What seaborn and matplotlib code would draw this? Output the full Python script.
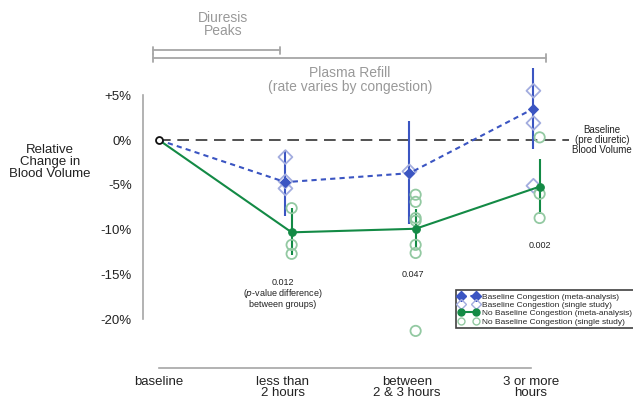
import numpy as np
import pandas as pd
import seaborn as sns
import matplotlib.pyplot as plt
from matplotlib.lines import Line2D

sns.set_theme(style="white")
plt.rcParams['font.family'] = ['Liberation Sans', 'DejaVu Sans']

# Time points after diuretic
categories = ["baseline", "less than\n2 hours", "between\n2 & 3 hours", "3 or more\nhours"]
yticks = [-20, -15, -10, -5, 0, 5]
ytick_labels = ["-20%", "-15%", "-10%", "-5%", "0%", "+5%"]

# Baseline congestion: pooled estimate and interval (% change)
cong_meta = [0.0, -4.7, -3.7, 3.5]
cong_lo = [np.nan, -8.5, -9.4, -1.0]
cong_hi = [np.nan, -1.1, 2.1, 8.0]

# No baseline congestion: pooled estimate and interval (% change)
nocong_meta = [0.0, -10.3, -9.9, -5.2]
nocong_lo = [np.nan, -12.8, -11.9, -8.3]
nocong_hi = [np.nan, -7.6, -7.7, -2.1]

# Individual studies
cong_single_t = [1, 1, 1, 2, 3, 3, 3]
cong_single_v = [-1.9, -4.6, -5.4, -3.5, 5.5, 1.9, -5.1]
nocong_single_t = [1, 1, 1, 2, 2, 2, 2, 2, 2, 2, 3, 3, 3]
nocong_single_v = [-7.6, -11.7, -12.7, -6.1, -6.9, -8.7, -9.0, -11.7, -12.6, -21.3, 0.3, -6.0, -8.7]

# p-values for the between-group difference
p_values = ["0.012", "0.047", "0.002"]

BLUE = "#3b55c2"
LBLUE = "#a3addf"
GREEN = "#138a45"
LGREEN = "#93c9a2"
GREY = "#a6a6a6"

fig = plt.figure(figsize=(6.33, 3.99), dpi=100)
ax = fig.add_axes([0, 0, 1, 1])
ax.set_xlim(-1.282, 3.823)
ax.set_ylim(-28.9, 15.63)

off_b, off_g = 0.02, 0.07
t = np.arange(len(categories))
tb = np.where(t > 0, t + off_b, t)
tg = np.where(t > 0, t + off_g, t)

meta = pd.DataFrame({"t_b": tb, "t_g": tg, "cong": cong_meta, "nocong": nocong_meta,
                     "cong_lo": cong_lo, "cong_hi": cong_hi,
                     "nocong_lo": nocong_lo, "nocong_hi": nocong_hi})
cs = pd.DataFrame({"t": np.array(cong_single_t) + off_b, "v": cong_single_v})
ns = pd.DataFrame({"t": np.array(nocong_single_t) + off_g, "v": nocong_single_v})

# reference line at baseline blood volume
ax.plot([0, 3.31], [0, 0], color="#333333", lw=1.2, dashes=(7, 4), zorder=1)

# interval bars
ax.vlines(meta["t_b"], meta["cong_lo"], meta["cong_hi"], color=BLUE, lw=1.5, zorder=2)
ax.vlines(meta["t_g"], meta["nocong_lo"], meta["nocong_hi"], color=GREEN, lw=1.5, zorder=2)

# single studies
sns.scatterplot(data=cs, x="t", y="v", marker="D", s=50, facecolor="none",
                edgecolor=LBLUE, linewidth=1.3, ax=ax, zorder=3)
sns.scatterplot(data=ns, x="t", y="v", marker="o", s=55, facecolor="none",
                edgecolor=LGREEN, linewidth=1.3, ax=ax, zorder=3)

# pooled estimates
sns.lineplot(data=meta, x="t_b", y="cong", color=BLUE, lw=1.5, dashes=False,
             linestyle=(0, (2.5, 2)), marker="D", markersize=5.5, markevery=[1, 2, 3],
             markeredgecolor=BLUE, ax=ax, zorder=4)
sns.lineplot(data=meta, x="t_g", y="nocong", color=GREEN, lw=1.5,
             marker="o", markersize=5.5, markevery=[1, 2, 3],
             markeredgecolor=GREEN, ax=ax, zorder=4)

# baseline point
ax.plot([0], [0], marker="o", ms=5, mfc="white", mec="#111111", mew=1.3, zorder=5)

# axes styling
for s in ["top", "right"]:
    ax.spines[s].set_visible(False)
ax.spines["left"].set_position(("data", -0.129))
ax.spines["left"].set_bounds(-20, 5)
ax.spines["bottom"].set_position(("data", -25.4))
ax.spines["bottom"].set_bounds(0, 3)
for s in ["left", "bottom"]:
    ax.spines[s].set_color(GREY)
    ax.spines[s].set_linewidth(1.2)
ax.set_yticks(yticks)
ax.set_yticklabels(ytick_labels)
ax.set_xticks(t)
ax.set_xticklabels(categories, linespacing=0.9)
ax.tick_params(axis="both", direction="out", length=4, width=1.2, color=GREY,
               labelsize=9.5, labelcolor="#222222", pad=3)
ax.tick_params(axis="x", pad=2)
ax.tick_params(axis="y", pad=4)
ax.set_xlabel("")
ax.set_ylabel("")
ax.text(-0.879, -2.45, "Relative\nChange in\nBlood Volume", ha="center", va="center",
        fontsize=9.5, color="#222222", linespacing=0.95)

# phase brackets
def bracket(x0, x1, y):
    ax.plot([x0, x1], [y, y], color=GREY, lw=1.3, clip_on=False)
    for x in (x0, x1):
        ax.plot([x, x], [y - 0.4, y + 0.4], color=GREY, lw=1.3, clip_on=False)

bracket(-0.048, 0.976, 10.04)
bracket(-0.048, 3.12, 9.15)
ax.text(0.516, 12.9, "Diuresis\nPeaks", ha="center", va="center", fontsize=10,
        color="#999999", linespacing=0.95)
ax.text(1.54, 6.7, "Plasma Refill\n(rate varies by congestion)", ha="center", va="center",
        fontsize=10, color="#999999", linespacing=0.95)
ax.text(3.575, 0, "Baseline\n(pre diuretic)\nBlood Volume", ha="center", va="center",
        fontsize=7.0, color="#222222", linespacing=0.95)

# p-value annotations
ax.text(1.0, -17.1, p_values[0] + "\n(" + r"$\it{p}$" + "-value difference)\nbetween groups)",
        ha="center", va="center", fontsize=6.5, color="#222222", linespacing=1.0)
ax.text(2.05, -15.0, p_values[1], ha="center", va="center", fontsize=6.5, color="#222222")
ax.text(3.07, -11.8, p_values[2], ha="center", va="center", fontsize=6.5, color="#222222")

handles = [
    Line2D([], [], color=BLUE, lw=1.5, linestyle=(0, (2.5, 2)), marker="D", ms=5),
    Line2D([], [], color=LBLUE, lw=0, marker="D", ms=5, mfc="none", mew=1.0),
    Line2D([], [], color=GREEN, lw=1.5, marker="o", ms=5),
    Line2D([], [], color=LGREEN, lw=0, marker="o", ms=5, mfc="none", mew=1.0),
]
labels = ["Baseline Congestion (meta-analysis)", "Baseline Congestion (single study)",
          "No Baseline Congestion (meta-analysis)", "No Baseline Congestion (single study)"]
leg = fig.legend(handles, labels, loc="upper left", bbox_to_anchor=(456 / 633, 1 - 290 / 399),
                 fontsize=6.0, numpoints=2, handlelength=2.4, handletextpad=0.4,
                 labelspacing=0.05, borderpad=0.35, frameon=True, fancybox=False,
                 borderaxespad=0)
leg.get_frame().set_edgecolor("#111111")
leg.get_frame().set_linewidth(1.2)

fig.savefig("out.png", dpi=100)
